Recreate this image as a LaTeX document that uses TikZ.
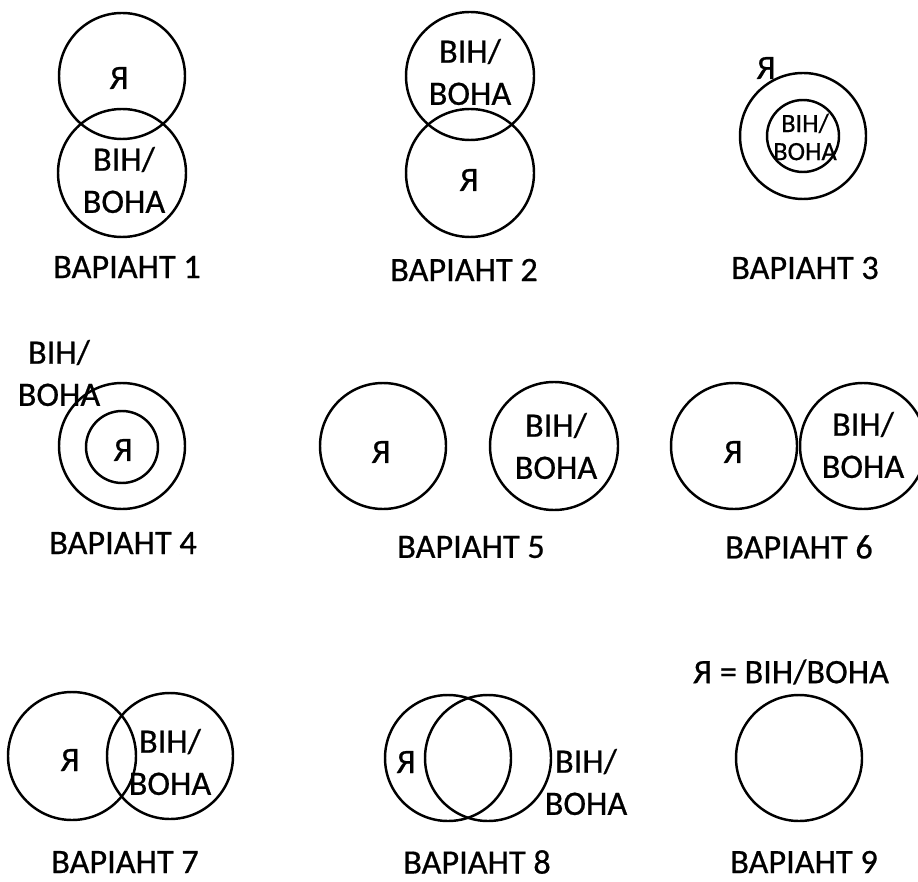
\documentclass[tikz,border=0pt]{standalone}
\usepackage{fontspec}
\setmainfont{Carlito}[FakeBold=0.6]
\newcommand{\vn}{ВІН/\\ВОНА}

\begin{document}
\begin{tikzpicture}[x=0.02cm,y=-0.02cm,line width=1.4pt,
    txt/.style={inner sep=0pt,align=center,font=\fontsize{19.5}{24}\selectfont},
    small/.style={inner sep=0pt,align=center,font=\fontsize{15}{16}\selectfont},
    variant/.style={inner sep=0pt,font=\fontsize{19.5}{24}\selectfont}]
   \useasboundingbox (0,0) rectangle (918,881);
   % variant 1
   \draw (122,76) circle[radius=63];
   \draw (122,173) circle[radius=64];
   \node[txt] (ja1) at (119,78) {Я};
   \node[txt] (vn1) at (124,180) {\vn};
   \node[variant] (v1) at (127,267) {ВАРІАНТ 1};
   % variant 2
   \draw (470,76) circle[radius=64];
   \draw (470,173) circle[radius=64];
   \node[txt] (vn2) at (470,72) {\vn};
   \node[txt] (ja2) at (469,180) {Я};
   \node[variant] (v2) at (464,270) {ВАРІАНТ 2};
   % variant 3
   \draw (803,136) circle[radius=63];
   \draw (803,136) circle[radius=36];
   \node[small] (vn3) at (805,137) {\vn};
   \node[txt] (ja3) at (766,68) {Я};
   \node[variant] (v3) at (805,268) {ВАРІАНТ 3};
   % variant 4
   \draw (122,446) circle[radius=63];
   \draw (122,447) circle[radius=36];
   \node[txt] (ja4) at (123,450) {Я};
   \node[txt] (vn4) at (59,373) {\vn};
   \node[variant] (v4) at (123,543) {ВАРІАНТ 4};
   % variant 5
   \draw (383,446) circle[radius=63];
   \draw (554,446) circle[radius=64];
   \node[txt] (ja5) at (381,452) {Я};
   \node[txt] (vn5) at (556,446) {\vn};
   \node[variant] (v5) at (471,547) {ВАРІАНТ 5};
   % variant 6
   \draw (734,446) circle[radius=63];
   \draw (863,446) circle[radius=63];
   \node[txt] (ja6) at (733,452) {Я};
   \node[txt] (vn6) at (863,445) {\vn};
   \node[variant] (v6) at (799,547) {ВАРІАНТ 6};
   % variant 7
   \draw (72,756) circle[radius=64];
   \draw (170,756) circle[radius=63];
   \node[txt] (ja7) at (70,760) {Я};
   \node[txt] (vn7) at (170,762) {\vn};
   \node[variant] (v7) at (125,862) {ВАРІАНТ 7};
   % variant 8
   \draw (448,758) circle[radius=63];
   \draw (488,758) circle[radius=63];
   \node[txt] (ja8) at (406,762) {Я};
   \node[txt] (vn8) at (586,782) {\vn};
   \node[variant] (v8) at (477,862) {ВАРІАНТ 8};
   % variant 9
   \draw (799,758) circle[radius=63];
   \node[variant] (eq9) at (791,672) {Я = ВІН/ВОНА};
   \node[variant] (v9) at (804,862) {ВАРІАНТ 9};
\end{tikzpicture}
\end{document}
